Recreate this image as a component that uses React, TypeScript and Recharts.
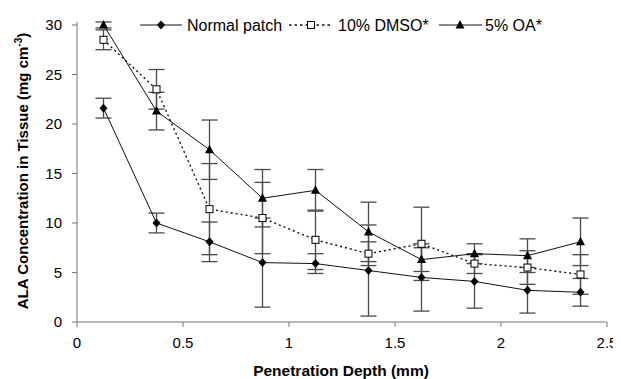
import React from 'react';
import { LineChart, Line, XAxis, YAxis, ErrorBar, Legend, Label } from 'recharts';

const depth = [0.125, 0.375, 0.625, 0.875, 1.125, 1.375, 1.625, 1.875, 2.125, 2.375];
const normalPatch = [21.6, 10.0, 8.1, 6.0, 5.9, 5.2, 4.5, 4.1, 3.2, 3.0];
const normalErr = [1.0, 1.0, 2.0, 4.5, 1.0, 4.6, 3.4, 2.7, 2.3, 1.4];
const dmso = [28.5, 23.5, 11.4, 10.5, 8.3, 6.9, 7.9, 5.9, 5.5, 4.8];
const dmsoErr = [1.0, 2.0, 4.6, 3.6, 3.0, 1.2, 3.7, 1.0, 1.7, 2.0];
const oa = [30.0, 21.3, 17.4, 12.5, 13.3, 9.1, 6.3, 6.9, 6.7, 8.1];
const oaErr = [0.3, 1.9, 3.0, 2.9, 2.1, 3.0, 1.2, 1.0, 1.7, 2.4];
const xTicks = [0, 0.5, 1, 1.5, 2, 2.5];
const yTicks = [0, 5, 10, 15, 20, 25, 30];
const seriesNames = ['Normal patch', '10% DMSO*', '5% OA*'];

const data = depth.map((d, i) => ({
  depth: d,
  normal: normalPatch[i],
  normalErr: normalErr[i],
  dmso: dmso[i],
  dmsoErr: dmsoErr[i],
  oa: oa[i],
  oaErr: oaErr[i],
}));

const FONT = '"Liberation Sans", Arial, sans-serif';
const LINE = '#111';
const ERR = '#4a4a4a';
const AXIS = '#777';

const Diamond = ({ cx, cy }: any) => (
  <polygon points={`${cx},${cy - 4.5} ${cx + 4},${cy} ${cx},${cy + 4.5} ${cx - 4},${cy}`} fill="#000" />
);
const Square = ({ cx, cy }: any) => (
  <rect x={cx - 3.5} y={cy - 3.5} width={7} height={7} fill="#fff" stroke="#000" strokeWidth={1} />
);
const Triangle = ({ cx, cy }: any) => (
  <polygon points={`${cx},${cy - 5} ${cx + 4.5},${cy + 3.5} ${cx - 4.5},${cy + 3.5}`} fill="#000" />
);

const dotDiamond = (p: any) => <Diamond key={`d${p.index}`} cx={p.cx} cy={p.cy} />;
const dotSquare = (p: any) => <Square key={`s${p.index}`} cx={p.cx} cy={p.cy} />;
const dotTriangle = (p: any) => <Triangle key={`t${p.index}`} cx={p.cx} cy={p.cy} />;

const LegendContent = () => {
  const y = 17;
  return (
    <svg width={613} height={30} style={{ display: 'block' }}>
      <line x1={132} x2={174} y1={y} y2={y} stroke={LINE} strokeWidth={1} />
      <Diamond cx={153} cy={y} />
      <text x={179} y={y + 5.5} fontFamily={FONT} fontSize={16} fill="#000">{seriesNames[0]}</text>
      <line x1={281} x2={324} y1={y} y2={y} stroke={LINE} strokeWidth={1.5} strokeDasharray="2.5 3" />
      <Square cx={303} cy={y} />
      <text x={330} y={y + 5.5} fontFamily={FONT} fontSize={16} fill="#000">{seriesNames[1]}</text>
      <line x1={431} x2={474} y1={y} y2={y} stroke={LINE} strokeWidth={1} />
      <Triangle cx={452} cy={y} />
      <text x={477} y={y + 5.5} fontFamily={FONT} fontSize={16} fill="#000">{seriesNames[2]}</text>
    </svg>
  );
};

const YLabel = (props: any) => {
  const vb = props.viewBox || { x: 0, y: 14, width: 69, height: 300 };
  const x = vb.x + 20;
  const y = vb.y + vb.height / 2 - 1;
  return (
    <text
      x={x}
      y={y}
      transform={`rotate(-90 ${x} ${y})`}
      textAnchor="middle"
      fontFamily={FONT}
      fontSize={15}
      fontWeight="bold"
      fill="#000"
    >
      ALA Concentration in Tissue (mg cm
      <tspan dy={-6} fontSize={10}>-3</tspan>
      <tspan dy={6}>)</tspan>
    </text>
  );
};

const XLabel = (props: any) => {
  const vb = props.viewBox || { x: 69, y: 314, width: 530, height: 30 };
  const x = vb.x + vb.width / 2 - 1;
  const y = vb.y + 54;
  return (
    <text x={x} y={y} textAnchor="middle" fontFamily={FONT} fontSize={15.5} fontWeight="bold" fill="#000">
      Penetration Depth (mm)
    </text>
  );
};

export default function App() {
  return (
    <div style={{ position: 'relative', width: 613, height: 371 }}>
      <LineChart
        width={613}
        height={371}
        data={data}
        margin={{ top: 14, right: 14, bottom: 27, left: 0 }}
      >
        <XAxis
          dataKey="depth"
          type="number"
          domain={[0, 2.5]}
          ticks={xTicks}
          tickSize={5}
          tickMargin={10}
          height={30}
          stroke={AXIS}
          tick={{ fill: '#000', fontSize: 15, fontFamily: FONT }}
          tickLine={{ stroke: AXIS }}
          axisLine={{ stroke: AXIS }}
        >
          <Label content={XLabel} />
        </XAxis>
        <YAxis
          type="number"
          domain={[0, 30]}
          ticks={yTicks}
          tickSize={5}
          tickMargin={10}
          width={69}
          stroke={AXIS}
          tick={{ fill: '#000', fontSize: 15, fontFamily: FONT }}
          tickLine={{ stroke: AXIS }}
          axisLine={{ stroke: AXIS }}
        >
          <Label content={YLabel} />
        </YAxis>
        <Legend
          layout="horizontal"
          verticalAlign="middle"
          align="center"
          content={LegendContent}
          wrapperStyle={{ position: 'absolute', top: 0, left: 0, width: 613, height: 30 }}
        />
        <Line
          dataKey="normal"
          name={seriesNames[0]}
          stroke={LINE}
          strokeWidth={1}
          dot={dotDiamond}
          isAnimationActive={false}
        >
          <ErrorBar dataKey="normalErr" width={8} stroke={ERR} strokeWidth={1.3} direction="y" />
        </Line>
        <Line
          dataKey="dmso"
          name={seriesNames[1]}
          stroke={LINE}
          strokeWidth={1.4}
          strokeDasharray="2 3"
          dot={dotSquare}
          isAnimationActive={false}
        >
          <ErrorBar dataKey="dmsoErr" width={8} stroke={ERR} strokeWidth={1.3} direction="y" />
        </Line>
        <Line
          dataKey="oa"
          name={seriesNames[2]}
          stroke={LINE}
          strokeWidth={1}
          dot={dotTriangle}
          isAnimationActive={false}
        >
          <ErrorBar dataKey="oaErr" width={8} stroke={ERR} strokeWidth={1.3} direction="y" />
        </Line>
      </LineChart>
    </div>
  );
}
